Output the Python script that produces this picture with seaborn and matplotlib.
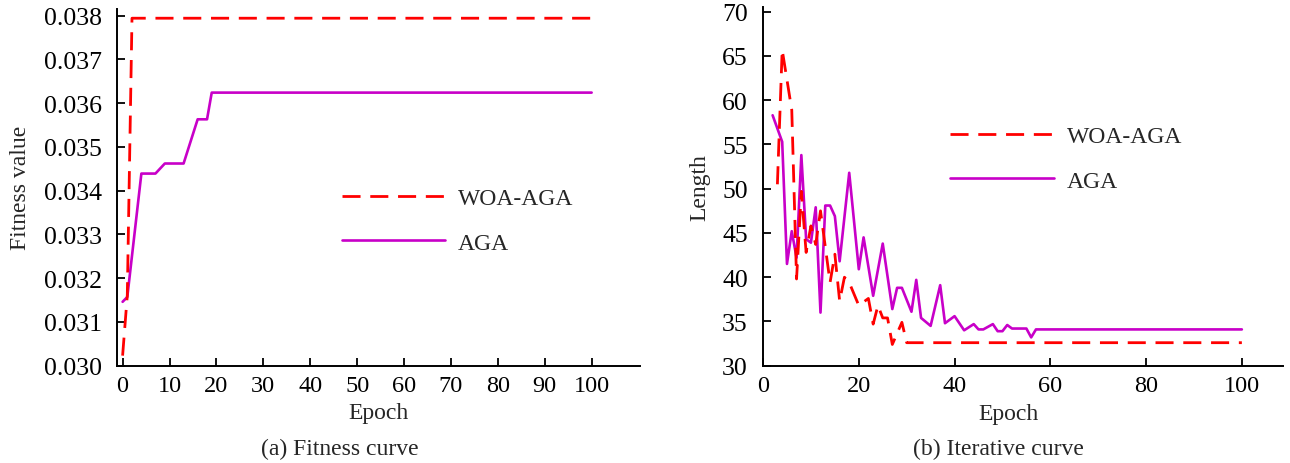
import numpy as np
import pandas as pd
import matplotlib
matplotlib.use("Agg")
import matplotlib.pyplot as plt
import seaborn as sns

# (a) Fitness curve
FIT_WOA_EPOCH = [0, 1, 2, 100]
FIT_WOA_VALUE = [0.03023, 0.03161, 0.03794, 0.03794]
FIT_AGA_EPOCH = [0, 1, 4, 7, 9, 13, 16, 18, 19, 100]
FIT_AGA_VALUE = [0.03146, 0.03157, 0.03439, 0.03439, 0.03462,
                 0.03462, 0.03563, 0.03563, 0.03624, 0.03624]

# (b) Iterative curve
LEN_WOA_EPOCH = [3, 4, 6, 7, 8, 9, 10, 11, 12, 14, 15, 16, 17, 18, 20,
                 22, 23, 24, 25, 26, 27, 29, 30, 100]
LEN_WOA_VALUE = [50.5, 65.7, 58.9, 39.8, 49.7, 42.8, 45.8, 43.7, 47.5, 39.4,
                 42.6, 37.3, 40.0, 39.4, 36.8, 37.6, 34.7, 36.8, 35.4, 35.4,
                 32.4, 34.9, 32.6, 32.6]
LEN_AGA_EPOCH = [2, 4, 5, 6, 7, 8, 9, 10, 11, 12, 13, 14, 15, 16, 18, 20,
                 21, 23, 25, 27, 28, 29, 31, 32, 33, 35, 37, 38, 40, 42,
                 44, 45, 46, 48, 49, 50, 51, 52, 55, 56, 57, 100]
LEN_AGA_VALUE = [58.3, 55.3, 41.5, 45.2, 42.2, 53.8, 44.3, 43.9, 47.9, 36.0,
                 48.1, 48.1, 46.9, 41.8, 51.8, 40.9, 44.5, 37.9, 43.8, 36.4,
                 38.8, 38.8, 36.1, 39.7, 35.4, 34.5, 39.1, 34.8, 35.6, 34.0,
                 34.7, 34.1, 34.1, 34.7, 33.9, 33.9, 34.6, 34.2, 34.2, 33.2,
                 34.1, 34.1]

LABELS = ["WOA-AGA", "AGA"]
RED = "#ff0000"
MAGENTA = "#c800c8"
FONT_SIZE = 17

sns.set_style("ticks")
plt.rcParams["font.family"] = ["Liberation Serif", "DejaVu Serif"]


def draw_panel(ax, woa_x, woa_y, aga_x, aga_y):
    sns.lineplot(x=aga_x, y=aga_y, ax=ax, color=MAGENTA, linewidth=1.9,
                 estimator=None, label=LABELS[1])
    sns.lineplot(x=woa_x, y=woa_y, ax=ax, color=RED, linewidth=2.0,
                 estimator=None, label=LABELS[0])
    ax.lines[-1].set_dashes((6.5, 3.5))

    for side in ("top", "right"):
        ax.spines[side].set_visible(False)
    for side in ("left", "bottom"):
        ax.spines[side].set_linewidth(1.4)
        ax.spines[side].set_color("black")
    ax.tick_params(direction="in", length=5.5, width=1.3, colors="black")
    ax.tick_params(axis="y", pad=11, labelsize=18.5)
    ax.tick_params(axis="x", pad=7, labelsize=17.5)
    ax.set_xlabel("Epoch", fontsize=FONT_SIZE)
    ax.xaxis.label.set_va("center")


def add_legend(ax, anchor):
    handles, labels = ax.get_legend_handles_labels()
    order = [labels.index(name) for name in LABELS]
    ax.legend([handles[i] for i in order], [labels[i] for i in order],
              loc="center left", bbox_to_anchor=anchor, frameon=False,
              borderaxespad=0, borderpad=0, handlelength=4.38,
              handletextpad=0.55, labelspacing=0.96, fontsize=FONT_SIZE)


fig = plt.figure(figsize=(12.9, 4.64), dpi=100)
ax1 = fig.add_axes([0.0909, 0.2097, 0.4052, 0.7687])
ax2 = fig.add_axes([0.5915, 0.2097, 0.4031, 0.7724])

# (a)
draw_panel(ax1, FIT_WOA_EPOCH, FIT_WOA_VALUE, FIT_AGA_EPOCH, FIT_AGA_VALUE)
ax1.set_xlim(-1.14, 110.3)
ax1.set_ylim(0.030, 0.03815)
ax1.set_xticks(np.arange(0, 101, 10))
ax1.set_yticks(np.arange(0.030, 0.0381, 0.001))
ax1.yaxis.set_major_formatter(matplotlib.ticker.FormatStrFormatter("%.3f"))
ax1.set_ylabel("Fitness value", fontsize=FONT_SIZE)
ax1.yaxis.label.set_va("center")
ax1.yaxis.set_label_coords(-0.186, 0.5)
ax1.xaxis.set_label_coords(0.5, -0.1326)
add_legend(ax1, (0.429, 0.4065))

# (b)
draw_panel(ax2, LEN_WOA_EPOCH, LEN_WOA_VALUE, LEN_AGA_EPOCH, LEN_AGA_VALUE)
ax2.set_xlim(0.3, 108.6)
ax2.set_ylim(30, 70.5)
ax2.set_xticks(np.arange(0, 101, 20))
ax2.set_yticks(np.arange(30, 71, 5))
ax2.set_ylabel("Length", fontsize=FONT_SIZE)
ax2.yaxis.label.set_va("center")
ax2.yaxis.set_label_coords(-0.121, 0.5)
ax2.xaxis.set_label_coords(0.472, -0.132)
add_legend(ax2, (0.36, 0.5776))

fig.text(340 / 1290, 1 - 449 / 464, "(a) Fitness curve", ha="center",
         va="center", fontsize=FONT_SIZE)
fig.text(998 / 1290, 1 - 449 / 464, "(b) Iterative curve", ha="center",
         va="center", fontsize=FONT_SIZE)

fig.savefig("out.png", dpi=100)
plt.close(fig)
